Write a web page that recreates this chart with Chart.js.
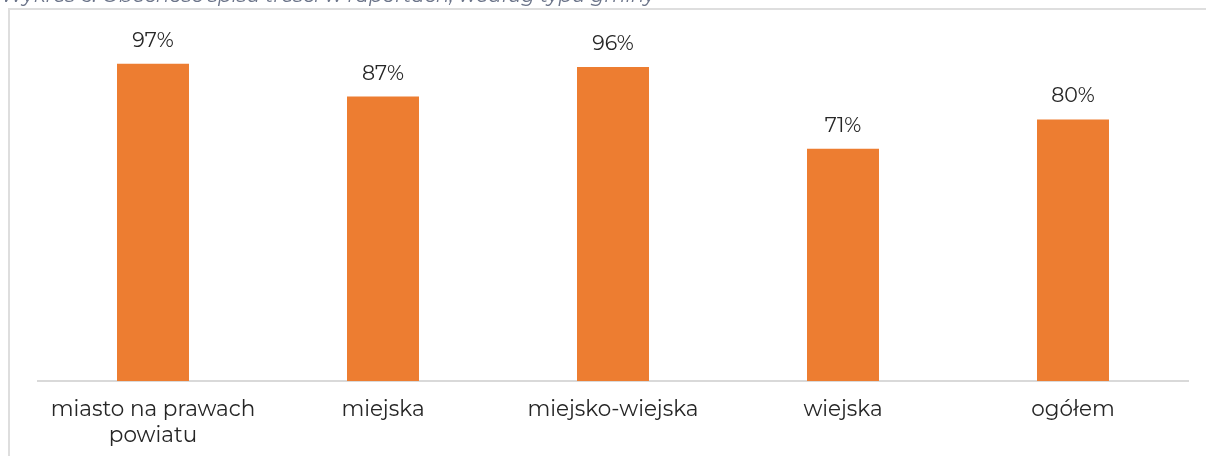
<!DOCTYPE html>
<html>
<head>
<meta charset="utf-8">
<script src="https://cdn.jsdelivr.net/npm/chart.js@4.4.1/dist/chart.umd.min.js"></script>
<style>
    html, body { margin: 0; padding: 0; background: #fff; overflow: hidden; }
    #frame {
        position: absolute; left: 8px; top: 8px; width: 1400px; height: 600px;
        border: 2px solid #dedede; box-sizing: border-box;
    }
    #chart { position: absolute; left: 0; top: 0; }
</style>
</head>
<body>
<div id="frame"></div>
<canvas id="chart" width="1206" height="456"></canvas>
<script>
const title = 'Wykres 6. Obecność spisu treści w raportach, według typu gminy';
const categories = [['miasto na prawach', 'powiatu'], 'miejska', 'miejsko-wiejska', 'wiejska', 'ogółem'];
const values = [97, 87, 96, 71, 80];

const fontFamily = "Montserrat, 'DejaVu Sans', sans-serif";

const valueLabels = {
    id: 'valueLabels',
    afterDatasetsDraw(chart) {
        const ctx = chart.ctx;
        const meta = chart.getDatasetMeta(0);
        ctx.save();
        ctx.fillStyle = '#262626';
        ctx.font = '20.5px ' + fontFamily;
        ctx.textAlign = 'center';
        ctx.textBaseline = 'middle';
        meta.data.forEach((bar, i) => {
            ctx.fillText(values[i] + '%', bar.x, bar.y - 23);
        });
        ctx.restore();
    }
};

const titleText = {
    id: 'titleText',
    afterDraw(chart) {
        const ctx = chart.ctx;
        ctx.save();
        ctx.fillStyle = '#6b7489';
        ctx.font = 'italic 20px ' + fontFamily;
        ctx.textBaseline = 'alphabetic';
        ctx.fillText(title, 1, 2);
        ctx.restore();
    }
};

const ctx = document.getElementById('chart').getContext('2d');
new Chart(ctx, {
    type: 'bar',
    data: {
        labels: categories,
        datasets: [{
            data: values,
            backgroundColor: '#ed7d31',
            categoryPercentage: 1,
            barPercentage: 0.313
        }]
    },
    options: {
        responsive: false,
        animation: false,
        layout: { padding: { left: 38, right: 18, top: 54, bottom: 0 } },
        plugins: { legend: { display: false }, tooltip: { enabled: false } },
        scales: {
            y: { display: false, min: 0, max: 100 },
            x: {
                grid: { display: false },
                border: { color: '#d9d9d9', width: 2 },
                ticks: {
                    color: '#262626',
                    padding: 8,
                    maxRotation: 0,
                    autoSkip: false,
                    font: { family: fontFamily, size: 21.5, lineHeight: 1.21 }
                },
                afterFit(scale) { scale.height = 75; }
            }
        }
    },
    plugins: [valueLabels, titleText]
});
</script>
</body>
</html>
